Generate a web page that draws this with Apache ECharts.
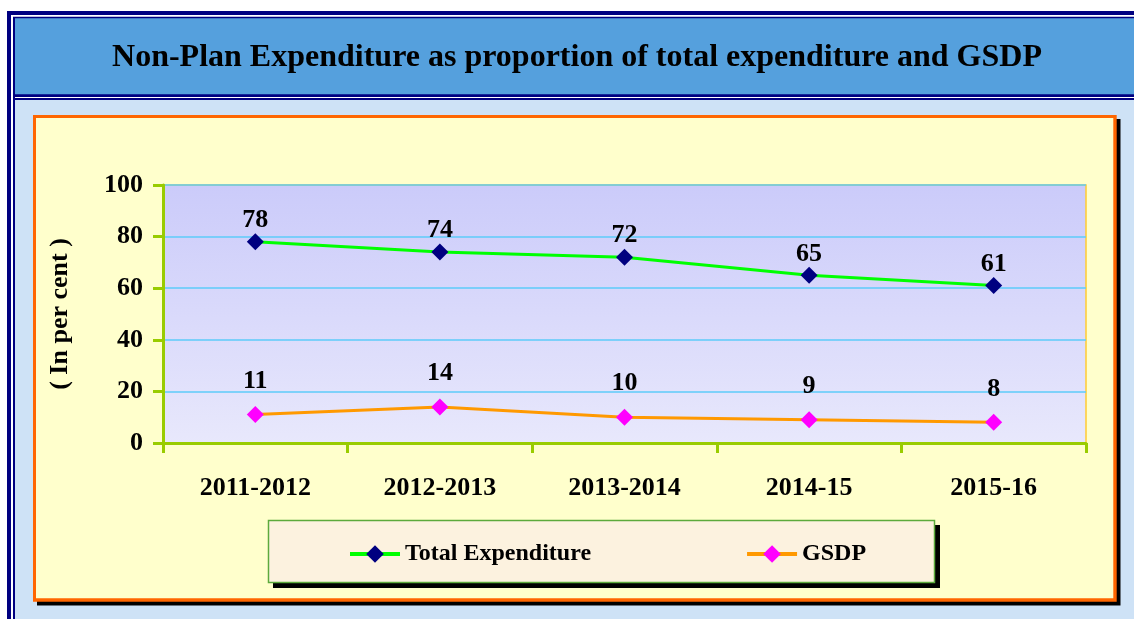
<!DOCTYPE html>
<html><head><meta charset="utf-8">
<script src="https://cdn.jsdelivr.net/npm/echarts/dist/echarts.min.js"></script>
<style>html,body{margin:0;padding:0;background:#fff;overflow:hidden}#c{width:1134px;height:619px}</style>
</head><body><div id="c"></div>
<script>
const chartTitle = 'Non-Plan Expenditure as proportion of total expenditure and GSDP';
const categories = ['2011-2012', '2012-2013', '2013-2014', '2014-15', '2015-16'];
const totalExpenditure = [78, 74, 72, 65, 61];
const gsdp = [11, 14, 10, 9, 8];
const yTicks = [0, 20, 40, 60, 80, 100];
const seriesNames = ['Total Expenditure', 'GSDP'];
const yAxisName = '( In per cent )';

const FONT = "'Liberation Serif', 'Times New Roman', serif";
const chart = echarts.init(document.getElementById('c'), null, {renderer: 'canvas'});

const bg = [
  {type: 'rect', shape: {x: 7, y: 11, width: 1200, height: 700}, style: {fill: '#000080'}},
  {type: 'rect', shape: {x: 11, y: 15, width: 1200, height: 700}, style: {fill: '#ffffff'}},
  {type: 'rect', shape: {x: 13, y: 16.7, width: 1200, height: 700}, style: {fill: '#000080'}},
  {type: 'rect', shape: {x: 15, y: 18.3, width: 1200, height: 76}, style: {fill: '#55A0DD'}},
  {type: 'rect', shape: {x: 15, y: 97, width: 1200, height: 1}, style: {fill: '#ffffff'}},
  {type: 'rect', shape: {x: 15, y: 100, width: 1200, height: 700}, style: {fill: '#CEE2F6'}},
  {type: 'rect', shape: {x: 37, y: 119, width: 1083.5, height: 486.5}, style: {fill: '#000000'}},
  {type: 'rect', shape: {x: 33, y: 115, width: 1083.7, height: 486.7}, style: {fill: '#FF6600'}},
  {type: 'rect', shape: {x: 36, y: 118, width: 1077.3, height: 480.3}, style: {fill: '#FFFFCC'}},
  {type: 'rect', shape: {x: 273, y: 525, width: 667, height: 63}, style: {fill: '#000000'}},
  {type: 'rect', shape: {x: 268.5, y: 520.5, width: 666, height: 62}, style: {fill: '#FCF2DF', stroke: '#5CAA3C', lineWidth: 1.5}}
].map(function (e) { e.z = -10; e.silent = true; return e; });

const option = {
  animation: false,
  graphic: [{type: 'group', z: -10, children: bg}],
  title: {
    text: chartTitle,
    left: 577, top: 42, textAlign: 'center', padding: 0,
    textStyle: {fontFamily: FONT, fontWeight: 'bold', fontSize: 32, color: '#000'}
  },
  legend: {
    data: seriesNames,
    left: 268, top: 520,
    padding: [22, 75, 16, 80],
    itemGap: 154,
    itemWidth: 50, itemHeight: 22,
    lineStyle: {width: 4},
    textStyle: {fontFamily: FONT, fontWeight: 'bold', fontSize: 24, color: '#000'}
  },
  grid: {
    left: 163, top: 185, right: 48, bottom: 176,
    show: true,
    borderColor: '#FFCC33', borderWidth: 1.5,
    backgroundColor: new echarts.graphic.LinearGradient(0, 0, 0, 1, [
      {offset: 0, color: '#CBCBFA'},
      {offset: 1, color: '#E8E8FC'}
    ])
  },
  xAxis: {
    type: 'category',
    data: categories,
    boundaryGap: true,
    axisLine: {lineStyle: {color: '#99CC00', width: 3}},
    axisTick: {show: true, length: 10, lineStyle: {color: '#99CC00', width: 3}},
    axisLabel: {margin: 32, fontFamily: FONT, fontWeight: 'bold', fontSize: 26, color: '#000'},
    splitLine: {show: false}
  },
  yAxis: {
    type: 'value',
    min: yTicks[0], max: yTicks[yTicks.length - 1], interval: yTicks[1] - yTicks[0],
    name: yAxisName,
    nameLocation: 'middle',
    nameGap: 90,
    nameRotate: 90,
    nameTextStyle: {fontFamily: FONT, fontWeight: 'bold', fontSize: 26, color: '#000'},
    axisLine: {show: true, lineStyle: {color: '#99CC00', width: 3}},
    axisTick: {show: true, length: 10, lineStyle: {color: '#99CC00', width: 3}},
    axisLabel: {margin: 20, fontFamily: FONT, fontWeight: 'bold', fontSize: 26, color: '#000'},
    splitLine: {show: true, lineStyle: {color: '#5CCBFA', width: 1.5}}
  },
  series: [
    {
      name: seriesNames[0], type: 'line', data: totalExpenditure,
      symbol: 'diamond', symbolSize: 17, showAllSymbol: true,
      lineStyle: {color: '#00FF00', width: 3},
      itemStyle: {color: '#000080'},
      label: {show: true, position: 'top', distance: 0, fontFamily: FONT, fontWeight: 'bold', fontSize: 26, color: '#000'},
      z: 3
    },
    {
      name: seriesNames[1], type: 'line', data: gsdp,
      symbol: 'diamond', symbolSize: 17, showAllSymbol: true,
      lineStyle: {color: '#FF9900', width: 3},
      itemStyle: {color: '#FF00FF'},
      label: {show: true, position: 'top', distance: 12, fontFamily: FONT, fontWeight: 'bold', fontSize: 26, color: '#000'},
      z: 3
    }
  ]
};
chart.setOption(option);
</script>
</body></html>
